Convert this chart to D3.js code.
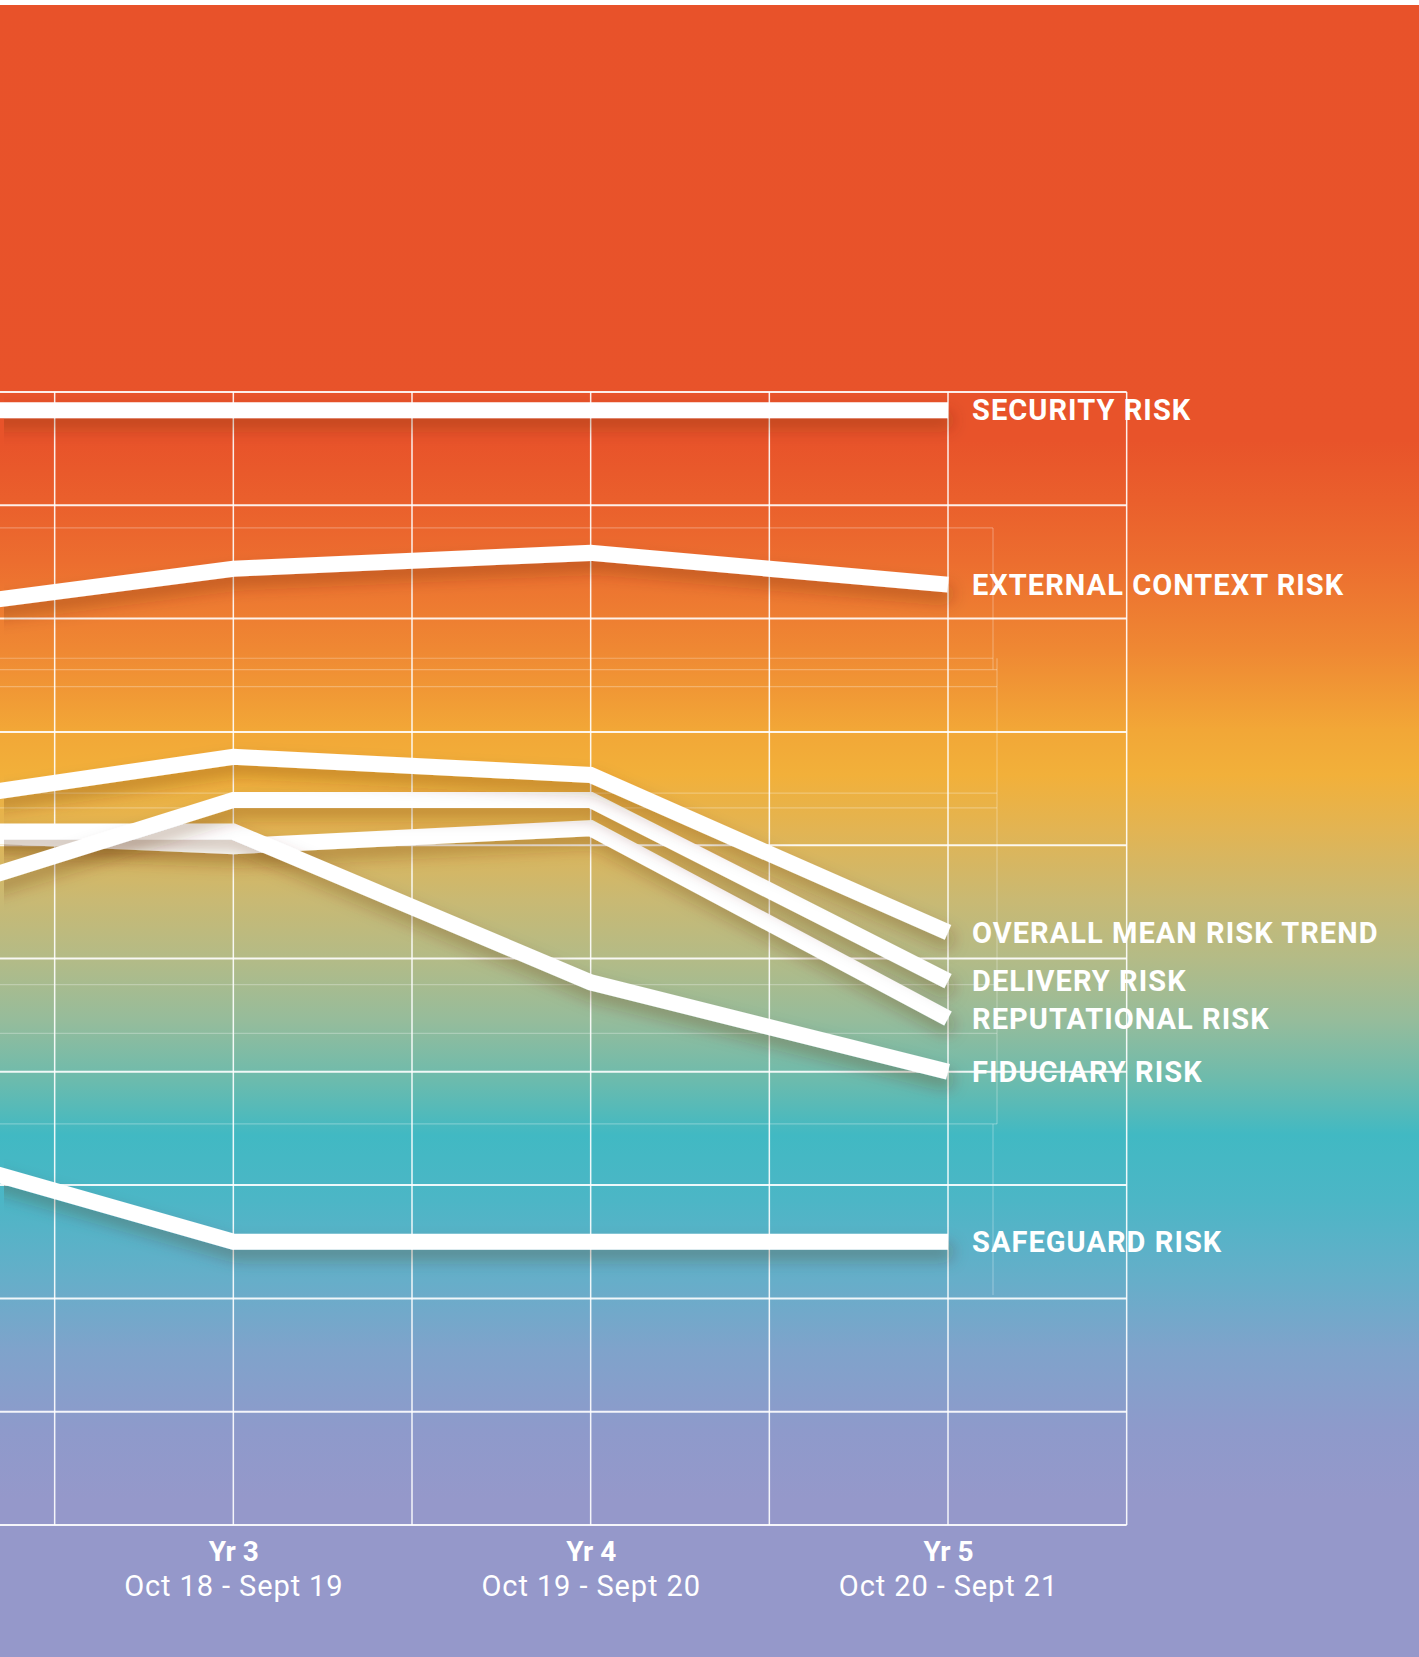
<!DOCTYPE html>
<html>
<head>
<meta charset="utf-8">
<script src="https://cdn.jsdelivr.net/npm/d3@7"></script>
<style>
  html, body { margin: 0; padding: 0; background: #fff; }
  svg { display: block; }
</style>
</head>
<body>
<script>
// years and periods along the bottom (Yr 2 sits just off the left edge)
const years = ['Yr 2', 'Yr 3', 'Yr 4', 'Yr 5']
const periods = ['Oct 17 - Sept 18', 'Oct 18 - Sept 19', 'Oct 19 - Sept 20', 'Oct 20 - Sept 21']

// risk scores (grid = 1 unit per row)
const security = [9.84, 9.84, 9.84, 9.84]
const external = [8.03, 8.44, 8.58, 8.30]
const overall = [6.32, 6.78, 6.62, 5.23]
const delivery = [5.41, 6.40, 6.40, 4.80]
const reputational = [6.13, 5.99, 6.15, 4.47]
const fiduciary = [6.12, 6.12, 4.79, 4.00]
const safeguard = [3.40, 2.50, 2.50, 2.50]

// faint leftover rows of a second grid layer
const ghostRows = [8.80, 7.65, 7.55, 7.40, 6.46, 6.33, 4.77, 4.34, 3.54]

// drawing order: lower lines first so upper shadows fall on them
const series = [
  {name: 'SAFEGUARD RISK', values: safeguard},
  {name: 'REPUTATIONAL RISK', values: reputational},
  {name: 'FIDUCIARY RISK', values: fiduciary},
  {name: 'DELIVERY RISK', values: delivery},
  {name: 'OVERALL MEAN RISK TREND', values: overall},
  {name: 'EXTERNAL CONTEXT RISK', values: external},
  {name: 'SECURITY RISK', values: security}
]

const width = 1419
const height = 1657

const x = d3.scalePoint().domain(years).range([-124, 948])
const step = x.step()
const y = d3.scaleLinear().domain([0, 10]).range([1525, 392])
const gridRight = x(years[years.length - 1]) + step / 2

const svg = d3.select('body').append('svg')
  .attr('width', width)
  .attr('height', height)

const defs = svg.append('defs')

// background gradient
const grad = defs.append('linearGradient')
  .attr('id', 'bg')
  .attr('gradientUnits', 'userSpaceOnUse')
  .attr('x1', 0).attr('y1', 0).attr('x2', 0).attr('y2', height)
const stops = [
  [0, '#e8522a'], [440, '#e8532a'], [500, '#ea5f2c'], [560, '#ec6d2f'],
  [650, '#ef8833'], [730, '#f2a737'], [775, '#f2b03a'], [830, '#e2b453'],
  [900, '#c9b973'], [960, '#b3bb87'], [1020, '#96bc9b'], [1080, '#6cbbad'],
  [1135, '#41b9c3'], [1200, '#4cb6c6'], [1280, '#66aec9'], [1350, '#7fa3cb'],
  [1430, '#8e9acb'], [1500, '#9598ca'], [1657, '#9598ca']
]
grad.selectAll('stop').data(stops).join('stop')
  .attr('offset', d => d[0] / height)
  .attr('stop-color', d => d[1])

// soft drop shadow under each line
const shadow = defs.append('filter')
  .attr('id', 'shadow')
  .attr('filterUnits', 'userSpaceOnUse')
  .attr('x', 0).attr('y', 0).attr('width', width).attr('height', height)
shadow.append('feGaussianBlur').attr('in', 'SourceAlpha').attr('stdDeviation', 8).attr('result', 'blur')
shadow.append('feOffset').attr('in', 'blur').attr('dx', 4).attr('dy', 10).attr('result', 'off')
shadow.append('feFlood').attr('flood-color', '#5a2800').attr('flood-opacity', 0.3)
shadow.append('feComposite').attr('in2', 'off').attr('operator', 'in').attr('result', 'sh')
const merge = shadow.append('feMerge')
merge.append('feMergeNode').attr('in', 'sh')
merge.append('feMergeNode').attr('in', 'SourceGraphic')

svg.append('rect')
  .attr('x', 0).attr('y', 5)
  .attr('width', width).attr('height', height - 5)
  .attr('fill', 'url(#bg)')

// faint second grid
const ghost = svg.append('g').attr('stroke', '#fff').attr('stroke-opacity', 0.28).attr('stroke-width', 1.2)
ghost.selectAll('line').data(ghostRows).join('line')
  .attr('x1', 0).attr('x2', (d, i) => i < 2 ? 993 : 997)
  .attr('y1', d => y(d)).attr('y2', d => y(d))
ghost.append('line').attr('x1', 993).attr('x2', 993).attr('y1', y(8.80)).attr('y2', y(7.55))
ghost.append('line').attr('x1', 997).attr('x2', 997).attr('y1', y(7.65)).attr('y2', y(3.54))
ghost.append('line').attr('x1', 993).attr('x2', 993).attr('y1', y(3.54)).attr('y2', y(2.03))

// main grid
const grid = svg.append('g').attr('stroke', '#fff').attr('stroke-opacity', 0.9)
grid.selectAll('line.h').data(y.ticks(10)).join('line')
  .attr('class', 'h')
  .attr('x1', 0).attr('x2', gridRight)
  .attr('y1', d => y(d)).attr('y2', d => y(d))
  .attr('stroke-width', 2)
const cols = years.flatMap(c => [x(c), x(c) + step / 2]).filter(v => v > 0)
grid.selectAll('line.v').data(cols).join('line')
  .attr('class', 'v')
  .attr('x1', d => d).attr('x2', d => d)
  .attr('y1', y(10)).attr('y2', y(0))
  .attr('stroke-width', 1.5)

// risk lines
const line = d3.line()
  .x((d, i) => x(years[i]))
  .y(d => y(d))

svg.append('g').selectAll('path').data(series).join('path')
  .attr('d', d => line(d.values))
  .attr('fill', 'none')
  .attr('stroke', '#fff')
  .attr('stroke-width', 16)
  .attr('stroke-linejoin', 'miter')
  .attr('filter', 'url(#shadow)')

// end labels
svg.append('g').selectAll('text').data(series).join('text')
  .attr('x', x('Yr 5') + 24)
  .attr('y', d => y(d.values[d.values.length - 1]))
  .attr('dy', '0.35em')
  .attr('fill', '#fff')
  .attr('font-family', 'Roboto, sans-serif')
  .attr('font-weight', 700)
  .attr('font-size', 29)
  .attr('letter-spacing', 1.05)
  .text(d => d.name)

// x axis labels, only for the years inside the picture
const shown = years.filter(c => x(c) > 0)
const xAxis = svg.append('g')
  .attr('transform', 'translate(0,' + y(0) + ')')
  .call(d3.axisBottom(x).tickValues(shown).tickSize(0).tickPadding(0))
xAxis.select('.domain').remove()
xAxis.selectAll('.tick text')
  .attr('y', 36)
  .attr('dy', 0)
  .attr('fill', '#fff')
  .attr('font-family', 'Roboto, sans-serif')
  .attr('font-weight', 700)
  .attr('font-size', 28)
xAxis.selectAll('.tick').append('text')
  .attr('y', 71)
  .attr('fill', '#fff')
  .attr('font-family', 'Roboto, sans-serif')
  .attr('font-size', 29)
  .attr('letter-spacing', 0.9)
  .attr('text-anchor', 'middle')
  .text(d => periods[years.indexOf(d)])
</script>
</body>
</html>
